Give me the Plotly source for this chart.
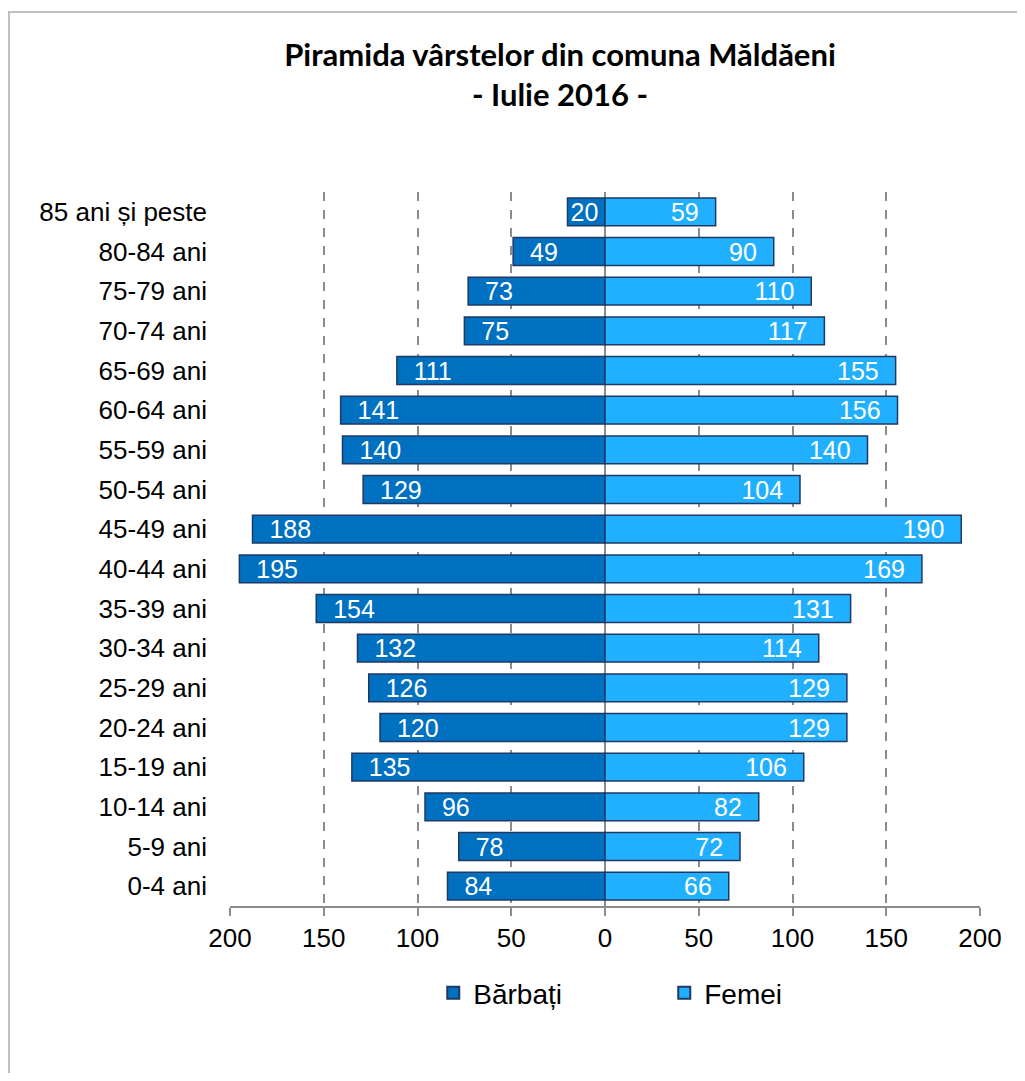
import plotly.graph_objects as go

categories = ["0-4 ani", "5-9 ani", "10-14 ani", "15-19 ani", "20-24 ani", "25-29 ani",
              "30-34 ani", "35-39 ani", "40-44 ani", "45-49 ani", "50-54 ani", "55-59 ani",
              "60-64 ani", "65-69 ani", "70-74 ani", "75-79 ani", "80-84 ani", "85 ani și peste"]
barbati = [84, 78, 96, 135, 120, 126, 132, 154, 195, 188, 129, 140, 141, 111, 75, 73, 49, 20]
femei = [66, 72, 82, 106, 129, 129, 114, 131, 169, 190, 104, 140, 156, 155, 117, 110, 90, 59]
tick_vals = [-200, -150, -100, -50, 0, 50, 100, 150, 200]
tick_text = ["200", "150", "100", "50", "0", "50", "100", "150", "200"]

FONT = "Liberation Sans, Arial, sans-serif"
OUTLINE = "#1F3864"
PAD = "\u00a0\u00a0"

W, H = 1009, 1065
L, T = 222, 184
PW, PH = 750, 714


def men_label(v):
    return PAD + str(v) if v >= 40 else str(v)


def women_label(v):
    return str(v) + PAD if v >= 40 else str(v)


fig = go.Figure()
fig.add_trace(go.Bar(
    y=categories, x=[-v for v in barbati], orientation="h", name="Bărbați",
    text=[men_label(v) for v in barbati], textposition="inside", insidetextanchor="end",
    textangle=0,
    textfont=dict(color="white", size=25, family=FONT),
    marker=dict(color="#0070C0", line=dict(color=OUTLINE, width=1.5)),
    width=0.7, constraintext="none", cliponaxis=False,
))
fig.add_trace(go.Bar(
    y=categories, x=femei, orientation="h", name="Femei",
    text=[women_label(v) for v in femei], textposition="inside", insidetextanchor="end",
    textangle=0,
    textfont=dict(color="white", size=25, family=FONT),
    marker=dict(color="#21B0FF", line=dict(color=OUTLINE, width=1.5)),
    width=0.7, constraintext="none", cliponaxis=False,
))

fig.update_layout(
    width=W, height=H,
    margin=dict(l=L, r=W - L - PW, t=T, b=H - T - PH),
    paper_bgcolor="white", plot_bgcolor="white",
    barmode="overlay",
    font=dict(family=FONT, size=26, color="black"),
    title=dict(
        text="<b>Piramida vârstelor din comuna Măldăeni<br>- Iulie 2016 -</b>",
        x=552 / W, xanchor="center", y=1 - 58 / H, yanchor="top",
        font=dict(family="Lato, Open Sans, sans-serif", size=31, color="black"),
    ),
    xaxis=dict(
        range=[-200, 200], tickvals=tick_vals, ticktext=tick_text,
        showgrid=True, gridcolor="#8C8C8C", griddash="dash", gridwidth=1.5,
        zeroline=True, zerolinecolor="#8C8C8C", zerolinewidth=2,
        showline=True, linecolor="#8C8C8C", linewidth=2,
        ticks="outside", ticklen=8, tickcolor="#8C8C8C", tickwidth=2,
        tickfont=dict(size=26, family=FONT, color="black"),
        fixedrange=True,
    ),
    yaxis=dict(
        categoryorder="array", categoryarray=categories,
        showgrid=False, zeroline=False, showline=False, ticks="",
        ticklabelstandoff=22,
        tickfont=dict(size=26, family=FONT, color="black"),
        fixedrange=True,
    ),
    legend=dict(
        orientation="h", x=0.271, xanchor="left", y=-0.122, yanchor="middle",
        font=dict(size=28, family=FONT, color="black"),
        entrywidth=186, itemsizing="constant",
    ),
    showlegend=True,
)

fig.add_shape(type="rect", xref="paper", yref="paper",
              x0=(1 - L) / PW, x1=(W + 30 - L) / PW,
              y0=-(H + 30 - T - PH) / PH, y1=(T + PH - 4) / PH,
              line=dict(color="#BFBFBF", width=2), fillcolor="rgba(0,0,0,0)", layer="below")

fig.write_html("out.html")
